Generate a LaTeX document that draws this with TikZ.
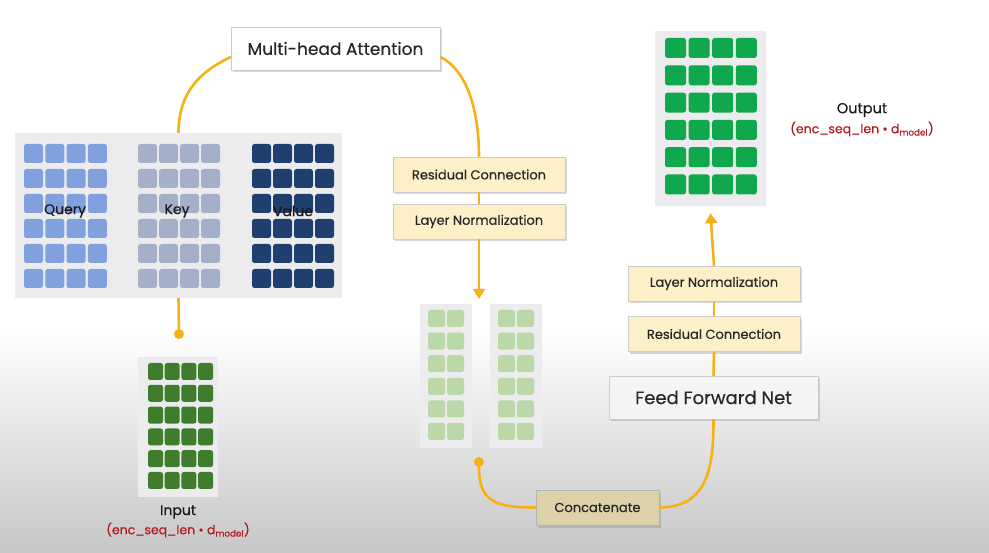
\documentclass[tikz,border=0pt]{standalone}
\usepackage{fontspec}
\setmainfont{Poppins}[FakeBold=0.35]
\usetikzlibrary{calc}
\usetikzlibrary{arrows.meta, shadows}
\definecolor{flowc}{RGB}{245,178,20}
\definecolor{panelc}{RGB}{236,236,238}
\definecolor{creamc}{RGB}{253,240,200}
\definecolor{concatc}{RGB}{220,209,168}
\definecolor{ffnc}{RGB}{244,244,244}
\definecolor{queryc}{RGB}{128,160,222}
\definecolor{keyc}{RGB}{164,176,200}
\definecolor{valuec}{RGB}{31,63,110}
\definecolor{inputc}{RGB}{63,124,44}
\definecolor{midc}{RGB}{186,216,168}
\definecolor{outc}{RGB}{16,168,76}
\definecolor{dimc}{RGB}{178,24,30}

\begin{document}
\begin{tikzpicture}[
	x=1pt, y=-1pt,
	>={Triangle[width=12pt,length=10pt]},
	flow/.style={draw=flowc, line width=2.6pt},
	panel/.style={fill=panelc, inner sep=0pt},
	box/.style={draw=black!20, line width=0.5pt, inner sep=0pt, fill=creamc,
		minimum width=172pt, minimum height=35pt, font=\fontsize{13}{15}\selectfont, text=black!85,
		drop shadow={shadow xshift=2pt, shadow yshift=-2.5pt, opacity=0.3}},
	bigbox/.style={box, fill=white, minimum width=209pt, minimum height=43pt, font=\fontsize{17}{20}\selectfont},
	dot/.style={circle, fill=flowc, inner sep=0pt, minimum size=10pt},
	lbl/.style={font=\fontsize{14}{16}\selectfont, text=black!90},
	dims/.style={font=\fontsize{12.5}{15}\selectfont, text=dimc}]

	\def\cellgrid[#1](#2,#3)(#4x#5)(#6:#7:#8:#9)% Syntax: [fill] (first cell) (cols x rows) (width:height:xstep:ystep)
		{\foreach \cx in {1,...,#4} \foreach \ry in {1,...,#5}
			\fill[#1, rounded corners=2.5pt] ({#2+(\cx-1)*#8},{#3+(\ry-1)*#9}) rectangle +(#6,#7); }

	\useasboundingbox (0,0) rectangle (989,553);
	\fill[white] (0,0) rectangle (989,330);
	\shade[top color=white, bottom color=black!22] (0,330) rectangle (989,553);

	% query, key, value
	\node[panel, minimum width=327pt, minimum height=165pt] (qkv) at (178.5,215.5) {};
	\cellgrid[queryc](24,144)(4x6)(19:19:21.3:25)
	\cellgrid[keyc](138,144)(4x6)(19:19:21:25)
	\cellgrid[valuec](252,144)(4x6)(19:19:21:25)
	\node[lbl] (qlab) at (65,211) {Query};
	\node[lbl] (klab) at (177,211) {Key};
	\node[lbl] (vlab) at (293,211) {Value};

	% input
	\node[panel, minimum width=80pt, minimum height=140pt] (inp) at (178,427) {};
	\cellgrid[inputc](148,363)(4x6)(15:17:16.7:21.8)
	\node[lbl] (inlab) at (178,512) {Input};
	\node[dims] (indims) at (178,530) {(enc\_seq\_len \textbullet{} d\textsubscript{model})};

	% heads
	\node[panel, minimum width=52pt, minimum height=144pt] (midL) at (446,376) {};
	\node[panel, minimum width=52pt, minimum height=144pt] (midR) at (516,376) {};
	\cellgrid[midc](428,310)(2x6)(17:17:19:22.6)
	\cellgrid[midc](498,310)(2x6)(17:17:19:22.6)

	% output
	\node[panel, minimum width=111pt, minimum height=175pt] (outp) at (710.5,118.5) {};
	\cellgrid[outc](665,38)(4x6)(21:20:23.6:27.3)
	\node[lbl, font=\fontsize{14.5}{16}\selectfont] (outlab) at (862,110) {Output};
	\node[dims] (outdims) at (862,129) {(enc\_seq\_len \textbullet{} d\textsubscript{model})};

	\node[bigbox] (mha) at (335.5,48.5) {Multi-head Attention};
	\node[box] (resL) at (479,174.5) {Residual Connection};
	\node[box] (normL) at (479,221.5) {Layer Normalization};
	\node[bigbox, fill=ffnc, font=\fontsize{18}{20}\selectfont] (ffn) at (713.5,397.5) {Feed Forward Net};
	\node[box] (resR) at (714,334) {Residual Connection};
	\node[box] (normR) at (714,283.5) {Layer Normalization};
	\node[box, fill=concatc, draw=black!30, minimum width=123pt] (concat) at (597.5,507.5) {Concatenate};

	\node[dot] (inDot) at (179,334) {};
	\node[dot] (catDot) at (479,462) {};
	\coordinate (split) at (479,299);

	\draw[flow] (qkv.north) .. controls +(0,-45) and +(-25,12) .. ([yshift=-8.5pt]mha.west);
	\draw[flow] ([yshift=-8.5pt]mha.east) .. controls +(25,12) and +(0,-50) .. (resL.north);
	\draw[flow] (resL.south) -- (normL.north);
	\draw[flow, ->] (normL.south) -- (split);
	\draw[flow] (qkv.south) -- (inDot);
	\draw[flow] (catDot) .. controls +(0,40) and +(-40,0) .. (concat.west);
	\draw[flow] (concat.east) .. controls +(50,0) and +(0,45) .. (ffn.south);
	\draw[flow] (ffn.north) -- (resR.south);
	\draw[flow] (resR.north) -- (normR.south);
	\draw[flow, ->] (normR.north) -- ([yshift=-7pt]outp.south);

\end{tikzpicture}
\end{document}
